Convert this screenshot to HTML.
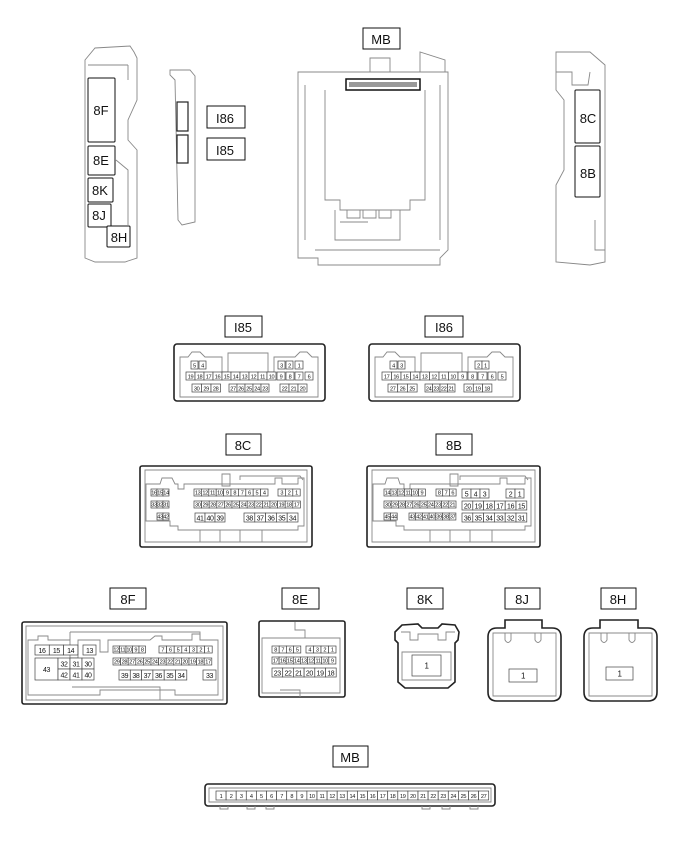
<!DOCTYPE html>
<html><head><meta charset="utf-8"><style>
html,body{margin:0;padding:0;background:#fff}
svg{display:block}
.o{fill:none;stroke:#222;stroke-width:1.6}
.l{fill:none;stroke:#888;stroke-width:0.9}
.c rect{fill:#fff;stroke:#444;stroke-width:0.7}
.c text{font-family:"Liberation Sans",sans-serif;font-size:5.6px;letter-spacing:-0.35px;text-anchor:middle;fill:#111}
.lb rect{fill:#fff;stroke:#111;stroke-width:1}
.lb text{font-family:"Liberation Sans",sans-serif;font-size:13px;text-anchor:middle;fill:#111}
.gr{fill:#e6e6e6;stroke:#555;stroke-width:0.7}
</style></head><body>
<svg width="688" height="852" viewBox="0 0 688 852" xmlns="http://www.w3.org/2000/svg">

<path class="l" d="M85,60 L95,48 L130,46 L134,52 L137,58 L137,100 L128,120 L128,140 L137,150 L137,258 L125,262 L95,262 L85,258 Z"/>
<path class="l" d="M88,65 L128,65 M128,65 L128,80 M116,160 L128,170 L128,225"/>
<g class="lb"><rect x="88" y="78" width="27" height="64" rx="1"/><text x="101" y="115">8F</text>
<rect x="88" y="146" width="27" height="29" rx="1"/><text x="101" y="165">8E</text>
<rect x="88" y="178" width="25" height="24" rx="1"/><text x="100" y="195">8K</text>
<rect x="88" y="204" width="23" height="23" rx="1"/><text x="99" y="220">8J</text>
<rect x="107" y="226" width="23" height="21" rx="1"/><text x="119" y="242">8H</text></g>
<path class="l" d="M170,70 L190,70 L195,76 L195,222 L182,225 L178,220 L175,80 L170,75 Z"/>
<rect x="177" y="102" width="11" height="29" fill="#fff" stroke="#222" stroke-width="1.2"/>
<rect x="177" y="135" width="11" height="28" fill="#fff" stroke="#222" stroke-width="1.2"/>
<g class="lb"><rect x="207" y="106" width="38" height="22"/><text x="225" y="123">I86</text>
<rect x="207" y="138" width="38" height="22"/><text x="225" y="155">I85</text>
<rect x="363" y="28" width="37" height="21"/><text x="381" y="44">MB</text></g>
<path class="l" d="M298,72 L448,72 L448,250 L440,258 L440,265 L318,265 L318,258 L298,258 Z"/>
<path class="l" d="M370,72 L370,58 L390,58 L390,72 M420,72 L420,52 L445,60 L445,72 M305,85 L305,240 M440,85 L440,240 M325,90 L325,200 L340,200 L340,210 L410,210 L410,200 L425,200 L425,90 M335,210 L335,240 L400,240 L400,210 M340,222 L368,222 M315,250 L440,250"/>
<path class="l" d="M347,210 h13 v8 h-13 z M363,210 h13 v8 h-13 z M379,210 h12 v8 h-12 z"/>
<rect x="346" y="79" width="74" height="11" fill="#fff" stroke="#111" stroke-width="1.5"/>
<rect x="349" y="82" width="68" height="5" fill="#999"/>
<path class="l" d="M556,52 L590,52 L605,65 L605,262 L590,265 L556,262 L556,185 L564,170 L564,100 L556,90 Z"/>
<path class="l" d="M556,72 L572,72 L572,85 L588,85 L590,72 M595,220 L595,250 L605,250"/>
<g class="lb"><rect x="575" y="90" width="25" height="53" rx="1"/><text x="588" y="123">8C</text>
<rect x="575" y="146" width="25" height="51" rx="1"/><text x="588" y="178">8B</text></g>

<g class="lb">
<rect x="225" y="316" width="37" height="21"/><text x="243" y="332">I85</text>
<rect x="425" y="316" width="38" height="21"/><text x="444" y="332">I86</text>
<rect x="226" y="434" width="35" height="21"/><text x="243" y="450">8C</text>
<rect x="436" y="434" width="36" height="21"/><text x="454" y="450">8B</text>
<rect x="110" y="588" width="36" height="21"/><text x="128" y="604">8F</text>
<rect x="282" y="588" width="37" height="21"/><text x="300" y="604">8E</text>
<rect x="407" y="588" width="36" height="21"/><text x="425" y="604">8K</text>
<rect x="505" y="588" width="35" height="21"/><text x="522" y="604">8J</text>
<rect x="601" y="588" width="35" height="21"/><text x="618" y="604">8H</text>
<rect x="333" y="746" width="35" height="21"/><text x="350" y="762">MB</text>
</g>

<rect class="o" x="174" y="344" width="151" height="57" rx="3"/>
<path class="l" d="M180,397 L180,357 L188,357 L192,352 L200,352 L205,357 L222,357 L222,372 L228,372 L228,353 L268,353 L268,372 L274,372 L274,357 L295,357 L300,352 L307,352 L312,357 L318,357 L318,397 Z"/>
<g class="c">
<rect x="191" y="361" width="7" height="8"/><text x="194.5" y="367.5">5</text>
<rect x="199" y="361" width="7" height="8"/><text x="202.5" y="367.5">4</text>
<rect x="278" y="361" width="7" height="8"/><text x="281.5" y="367.5">3</text>
<rect x="286" y="361" width="7" height="8"/><text x="289.5" y="367.5">2</text>
<rect x="295" y="361" width="8" height="8"/><text x="299" y="367.5">1</text>
<rect x="186" y="372" width="9" height="8"/><text x="190.5" y="378.5">19</text>
<rect x="195" y="372" width="9" height="8"/><text x="199.5" y="378.5">18</text>
<rect x="204" y="372" width="9" height="8"/><text x="208.5" y="378.5">17</text>
<rect x="213" y="372" width="9" height="8"/><text x="217.5" y="378.5">16</text>
<rect x="222" y="372" width="9" height="8"/><text x="226.5" y="378.5">15</text>
<rect x="231" y="372" width="9" height="8"/><text x="235.5" y="378.5">14</text>
<rect x="240" y="372" width="9" height="8"/><text x="244.5" y="378.5">13</text>
<rect x="249" y="372" width="9" height="8"/><text x="253.5" y="378.5">12</text>
<rect x="258" y="372" width="9" height="8"/><text x="262.5" y="378.5">11</text>
<rect x="267" y="372" width="9" height="8"/><text x="271.5" y="378.5">10</text>
<rect x="277" y="372" width="8" height="8"/><text x="281" y="378.5">9</text>
<rect x="286" y="372" width="8" height="8"/><text x="290" y="378.5">8</text>
<rect x="295" y="372" width="8" height="8"/><text x="299" y="378.5">7</text>
<rect x="305" y="372" width="8" height="8"/><text x="309" y="378.5">6</text>
<rect x="192" y="384" width="9.5" height="8"/><text x="196.7" y="390.5">30</text>
<rect x="201.5" y="384" width="9.5" height="8"/><text x="206.2" y="390.5">29</text>
<rect x="211" y="384" width="9.5" height="8"/><text x="215.7" y="390.5">28</text>
<rect x="229" y="384" width="8" height="8"/><text x="233" y="390.5">27</text>
<rect x="237" y="384" width="8" height="8"/><text x="241" y="390.5">26</text>
<rect x="245" y="384" width="8" height="8"/><text x="249" y="390.5">25</text>
<rect x="253" y="384" width="8" height="8"/><text x="257" y="390.5">24</text>
<rect x="261" y="384" width="8" height="8"/><text x="265" y="390.5">23</text>
<rect x="280" y="384" width="9" height="8"/><text x="284.5" y="390.5">22</text>
<rect x="289" y="384" width="9" height="8"/><text x="293.5" y="390.5">21</text>
<rect x="298" y="384" width="9" height="8"/><text x="302.5" y="390.5">20</text>
</g>

<rect class="o" x="369" y="344" width="151" height="57" rx="3"/>
<path class="l" d="M375,397 L375,357 L383,357 L387,352 L395,352 L400,357 L415,357 L415,372 L421,372 L421,353 L462,353 L462,372 L468,372 L468,357 L487,357 L492,352 L500,352 L505,357 L513,357 L513,397 Z"/>
<g class="c">
<rect x="390" y="361" width="7" height="8"/><text x="393.5" y="367.5">4</text>
<rect x="398" y="361" width="7" height="8"/><text x="401.5" y="367.5">3</text>
<rect x="475" y="361" width="7" height="8"/><text x="478.5" y="367.5">2</text>
<rect x="482" y="361" width="7" height="8"/><text x="485.5" y="367.5">1</text>
<rect x="382" y="372" width="9.5" height="8"/><text x="386.7" y="378.5">17</text>
<rect x="391.5" y="372" width="9.5" height="8"/><text x="396.2" y="378.5">16</text>
<rect x="401" y="372" width="9.5" height="8"/><text x="405.7" y="378.5">15</text>
<rect x="410.5" y="372" width="9.5" height="8"/><text x="415.2" y="378.5">14</text>
<rect x="420" y="372" width="9.5" height="8"/><text x="424.7" y="378.5">13</text>
<rect x="429.5" y="372" width="9.5" height="8"/><text x="434.2" y="378.5">12</text>
<rect x="439" y="372" width="9.5" height="8"/><text x="443.7" y="378.5">11</text>
<rect x="448.5" y="372" width="9.5" height="8"/><text x="453.2" y="378.5">10</text>
<rect x="458" y="372" width="9" height="8"/><text x="462.5" y="378.5">9</text>
<rect x="468" y="372" width="9" height="8"/><text x="472.5" y="378.5">8</text>
<rect x="478" y="372" width="9" height="8"/><text x="482.5" y="378.5">7</text>
<rect x="488" y="372" width="8" height="8"/><text x="492" y="378.5">6</text>
<rect x="498" y="372" width="8" height="8"/><text x="502" y="378.5">5</text>
<rect x="388" y="384" width="9.7" height="8"/><text x="392.8" y="390.5">27</text>
<rect x="397.7" y="384" width="9.7" height="8"/><text x="402.5" y="390.5">26</text>
<rect x="407.4" y="384" width="9.7" height="8"/><text x="412.2" y="390.5">25</text>
<rect x="425" y="384" width="7.5" height="8"/><text x="428.7" y="390.5">24</text>
<rect x="432.5" y="384" width="7.5" height="8"/><text x="436.2" y="390.5">23</text>
<rect x="440" y="384" width="7.5" height="8"/><text x="443.7" y="390.5">22</text>
<rect x="447.5" y="384" width="7.5" height="8"/><text x="451.2" y="390.5">21</text>
<rect x="464" y="384" width="9.3" height="8"/><text x="468.6" y="390.5">20</text>
<rect x="473.3" y="384" width="9.3" height="8"/><text x="477.9" y="390.5">19</text>
<rect x="482.6" y="384" width="9.3" height="8"/><text x="487.2" y="390.5">18</text>
</g>

<rect class="o" x="140" y="466" width="172" height="81" rx="2"/>
<path class="l" d="M145,470 L307,470 L307,542 L145,542 Z M200,542 L200,530 M220,542 L220,530 M240,530 L240,542 M262,542 L262,530 M222,474 L222,486 L230,486 L230,474 Z M240,480 L240,476 L300,476 L303,480"/>
<path class="l" d="M146,484 L160,484 L162,478 L172,478 L175,484 L178,484 L178,489 L184,489 L184,484 L275,484 L275,478 L282,478 L282,484 L298,484 L298,478 L304,478 L304,526 L298,526 L298,530 L178,530 L178,526 L170,526 L170,521 L146,521 Z"/>
<g class="c">
<rect x="151" y="489" width="6" height="7"/><text x="154" y="494.5">16</text>
<rect x="157" y="489" width="6" height="7"/><text x="160" y="494.5">15</text>
<rect x="163" y="489" width="6" height="7"/><text x="166" y="494.5">14</text>
<rect x="151" y="501" width="6" height="7"/><text x="154" y="506.5">33</text>
<rect x="157" y="501" width="6" height="7"/><text x="160" y="506.5">32</text>
<rect x="163" y="501" width="6" height="7"/><text x="166" y="506.5">31</text>
<rect x="157" y="513" width="6" height="7"/><text x="160" y="518.5">43</text>
<rect x="163" y="513" width="6" height="7"/><text x="166" y="518.5">42</text>
<rect x="194" y="489" width="7.4" height="7"/><text x="197.7" y="494.5">13</text>
<rect x="201.4" y="489" width="7.4" height="7"/><text x="205.1" y="494.5">12</text>
<rect x="208.8" y="489" width="7.4" height="7"/><text x="212.5" y="494.5">11</text>
<rect x="216.2" y="489" width="7.4" height="7"/><text x="219.9" y="494.5">10</text>
<rect x="223.6" y="489" width="7.4" height="7"/><text x="227.3" y="494.5">9</text>
<rect x="231" y="489" width="7.4" height="7"/><text x="234.7" y="494.5">8</text>
<rect x="238.4" y="489" width="7.4" height="7"/><text x="242.1" y="494.5">7</text>
<rect x="245.8" y="489" width="7.4" height="7"/><text x="249.5" y="494.5">6</text>
<rect x="253.2" y="489" width="7.4" height="7"/><text x="256.9" y="494.5">5</text>
<rect x="260.6" y="489" width="7.4" height="7"/><text x="264.3" y="494.5">4</text>
<rect x="278" y="489" width="7.4" height="7"/><text x="281.7" y="494.5">3</text>
<rect x="285.4" y="489" width="7.4" height="7"/><text x="289.1" y="494.5">2</text>
<rect x="292.8" y="489" width="7.4" height="7"/><text x="296.5" y="494.5">1</text>
<rect x="194" y="501" width="7.6" height="7"/><text x="197.8" y="506.5">30</text>
<rect x="201.6" y="501" width="7.6" height="7"/><text x="205.4" y="506.5">29</text>
<rect x="209.2" y="501" width="7.6" height="7"/><text x="213" y="506.5">28</text>
<rect x="216.8" y="501" width="7.6" height="7"/><text x="220.6" y="506.5">27</text>
<rect x="224.4" y="501" width="7.6" height="7"/><text x="228.2" y="506.5">26</text>
<rect x="232" y="501" width="7.6" height="7"/><text x="235.8" y="506.5">25</text>
<rect x="239.6" y="501" width="7.6" height="7"/><text x="243.4" y="506.5">24</text>
<rect x="247.2" y="501" width="7.6" height="7"/><text x="251" y="506.5">23</text>
<rect x="254.8" y="501" width="7.6" height="7"/><text x="258.6" y="506.5">22</text>
<rect x="262.4" y="501" width="7.6" height="7"/><text x="266.2" y="506.5">21</text>
<rect x="270" y="501" width="7.6" height="7"/><text x="273.8" y="506.5">20</text>
<rect x="277.6" y="501" width="7.6" height="7"/><text x="281.4" y="506.5">19</text>
<rect x="285.2" y="501" width="7.6" height="7"/><text x="289" y="506.5">18</text>
<rect x="292.8" y="501" width="7.6" height="7"/><text x="296.6" y="506.5">17</text>
</g>
<g class="c">
<rect x="195" y="513" width="10" height="9"/><text x="200" y="520.5" style="font-size:7px">41</text>
<rect x="205" y="513" width="10" height="9"/><text x="210" y="520.5" style="font-size:7px">40</text>
<rect x="215" y="513" width="10" height="9"/><text x="220" y="520.5" style="font-size:7px">39</text>
<rect x="244" y="513" width="10.8" height="9"/><text x="249.4" y="520.5" style="font-size:7px">38</text>
<rect x="254.8" y="513" width="10.8" height="9"/><text x="260.2" y="520.5" style="font-size:7px">37</text>
<rect x="265.6" y="513" width="10.8" height="9"/><text x="271" y="520.5" style="font-size:7px">36</text>
<rect x="276.4" y="513" width="10.8" height="9"/><text x="281.8" y="520.5" style="font-size:7px">35</text>
<rect x="287.2" y="513" width="10.8" height="9"/><text x="292.6" y="520.5" style="font-size:7px">34</text>
</g>

<rect class="o" x="367" y="466" width="173" height="81" rx="2"/>
<path class="l" d="M372,470 L535,470 L535,542 L372,542 Z M430,542 L430,530 M450,542 L450,530 M470,530 L470,542 M492,542 L492,530 M450,474 L450,486 L458,486 L458,474 Z M460,480 L460,476 L525,476 L528,480"/>
<path class="l" d="M373,484 L385,484 L387,478 L398,478 L400,484 L404,484 L404,489 L410,489 L410,484 L500,484 L500,478 L507,478 L507,484 L525,484 L525,478 L531,478 L531,526 L525,526 L525,530 L404,530 L404,526 L396,526 L396,521 L373,521 Z"/>
<g class="c">
<rect x="384" y="489" width="6.9" height="7"/><text x="387.4" y="494.5">14</text>
<rect x="390.9" y="489" width="6.9" height="7"/><text x="394.3" y="494.5">13</text>
<rect x="397.8" y="489" width="6.9" height="7"/><text x="401.2" y="494.5">12</text>
<rect x="404.7" y="489" width="6.9" height="7"/><text x="408.1" y="494.5">11</text>
<rect x="411.6" y="489" width="6.9" height="7"/><text x="415" y="494.5">10</text>
<rect x="418.5" y="489" width="6.9" height="7"/><text x="421.9" y="494.5">9</text>
<rect x="436" y="489" width="6.7" height="7"/><text x="439.3" y="494.5">8</text>
<rect x="442.7" y="489" width="6.7" height="7"/><text x="446" y="494.5">7</text>
<rect x="449.4" y="489" width="6.7" height="7"/><text x="452.7" y="494.5">6</text>
<rect x="384" y="501" width="7.2" height="7"/><text x="387.6" y="506.5">30</text>
<rect x="391.2" y="501" width="7.2" height="7"/><text x="394.8" y="506.5">29</text>
<rect x="398.4" y="501" width="7.2" height="7"/><text x="402" y="506.5">28</text>
<rect x="405.6" y="501" width="7.2" height="7"/><text x="409.2" y="506.5">27</text>
<rect x="412.8" y="501" width="7.2" height="7"/><text x="416.4" y="506.5">26</text>
<rect x="420" y="501" width="7.2" height="7"/><text x="423.6" y="506.5">25</text>
<rect x="427.2" y="501" width="7.2" height="7"/><text x="430.8" y="506.5">24</text>
<rect x="434.4" y="501" width="7.2" height="7"/><text x="438" y="506.5">23</text>
<rect x="441.6" y="501" width="7.2" height="7"/><text x="445.2" y="506.5">22</text>
<rect x="448.8" y="501" width="7.2" height="7"/><text x="452.4" y="506.5">21</text>
<rect x="384" y="513" width="6.6" height="7"/><text x="387.3" y="518.5">45</text>
<rect x="390.6" y="513" width="6.6" height="7"/><text x="393.9" y="518.5">44</text>
<rect x="409" y="513" width="6.7" height="7"/><text x="412.3" y="518.5">43</text>
<rect x="415.7" y="513" width="6.7" height="7"/><text x="419" y="518.5">42</text>
<rect x="422.4" y="513" width="6.7" height="7"/><text x="425.7" y="518.5">41</text>
<rect x="429.1" y="513" width="6.7" height="7"/><text x="432.4" y="518.5">40</text>
<rect x="435.8" y="513" width="6.7" height="7"/><text x="439.1" y="518.5">39</text>
<rect x="442.5" y="513" width="6.7" height="7"/><text x="445.8" y="518.5">38</text>
<rect x="449.2" y="513" width="6.7" height="7"/><text x="452.5" y="518.5">37</text>
</g>
<g class="c">
<rect x="462" y="489" width="9" height="9"/><text x="466.5" y="496.5" style="font-size:7px">5</text>
<rect x="471" y="489" width="9" height="9"/><text x="475.5" y="496.5" style="font-size:7px">4</text>
<rect x="480" y="489" width="9" height="9"/><text x="484.5" y="496.5" style="font-size:7px">3</text>
<rect x="506" y="489" width="9" height="9"/><text x="510.5" y="496.5" style="font-size:7px">2</text>
<rect x="515" y="489" width="9" height="9"/><text x="519.5" y="496.5" style="font-size:7px">1</text>
<rect x="462" y="501" width="10.8" height="9"/><text x="467.4" y="508.5" style="font-size:7px">20</text>
<rect x="472.8" y="501" width="10.8" height="9"/><text x="478.2" y="508.5" style="font-size:7px">19</text>
<rect x="483.6" y="501" width="10.8" height="9"/><text x="489" y="508.5" style="font-size:7px">18</text>
<rect x="494.4" y="501" width="10.8" height="9"/><text x="499.8" y="508.5" style="font-size:7px">17</text>
<rect x="505.2" y="501" width="10.8" height="9"/><text x="510.6" y="508.5" style="font-size:7px">16</text>
<rect x="516" y="501" width="10.8" height="9"/><text x="521.4" y="508.5" style="font-size:7px">15</text>
<rect x="462" y="513" width="10.8" height="9"/><text x="467.4" y="520.5" style="font-size:7px">36</text>
<rect x="472.8" y="513" width="10.8" height="9"/><text x="478.2" y="520.5" style="font-size:7px">35</text>
<rect x="483.6" y="513" width="10.8" height="9"/><text x="489" y="520.5" style="font-size:7px">34</text>
<rect x="494.4" y="513" width="10.8" height="9"/><text x="499.8" y="520.5" style="font-size:7px">33</text>
<rect x="505.2" y="513" width="10.8" height="9"/><text x="510.6" y="520.5" style="font-size:7px">32</text>
<rect x="516" y="513" width="10.8" height="9"/><text x="521.4" y="520.5" style="font-size:7px">31</text>
</g>

<rect class="o" x="22" y="622" width="205" height="82" rx="2"/>
<path class="l" d="M26,626 L223,626 L223,700 L26,700 Z M70,632 L200,632 L200,640 M70,632 L70,640 M72,687 L160,687 L160,700"/>
<path class="l" d="M28,640 L38,640 L38,636 L48,636 L48,640 L70,640 L70,658 L78,658 L78,640 L100,640 L100,652 L108,652 L108,640 L150,640 L155,636 L162,636 L162,640 L192,640 L192,634 L200,634 L200,640 L218,640 L218,695 L175,695 L175,690 L100,690 L100,695 L28,695 Z"/>
<g class="c">
<rect x="35" y="645" width="14.3" height="10"/><text x="42" y="653" style="font-size:7px">16</text>
<rect x="49.3" y="645" width="14.3" height="10"/><text x="56.4" y="653" style="font-size:7px">15</text>
<rect x="63.6" y="645" width="14.3" height="10"/><text x="70.7" y="653" style="font-size:7px">14</text>
<rect x="83" y="645" width="13" height="10"/><text x="89.5" y="653" style="font-size:7px">13</text>
<rect x="35" y="658" width="23" height="22"/><text x="46.5" y="672" style="font-size:7px">43</text>
<rect x="58" y="658" width="12" height="11"/><text x="64" y="666.5" style="font-size:7px">32</text>
<rect x="70" y="658" width="12" height="11"/><text x="76" y="666.5" style="font-size:7px">31</text>
<rect x="82" y="658" width="12" height="11"/><text x="88" y="666.5" style="font-size:7px">30</text>
<rect x="58" y="669" width="12" height="11"/><text x="64" y="677.5" style="font-size:7px">42</text>
<rect x="70" y="669" width="12" height="11"/><text x="76" y="677.5" style="font-size:7px">41</text>
<rect x="82" y="669" width="12" height="11"/><text x="88" y="677.5" style="font-size:7px">40</text>
<rect x="113" y="646" width="6.5" height="7"/><text x="116.2" y="651.5">12</text>
<rect x="119.5" y="646" width="6.5" height="7"/><text x="122.7" y="651.5">11</text>
<rect x="126" y="646" width="6.5" height="7"/><text x="129.2" y="651.5">10</text>
<rect x="132.5" y="646" width="6.5" height="7"/><text x="135.7" y="651.5">9</text>
<rect x="139" y="646" width="6.5" height="7"/><text x="142.2" y="651.5">8</text>
<rect x="159" y="646" width="7.6" height="7"/><text x="162.8" y="651.5">7</text>
<rect x="166.6" y="646" width="7.6" height="7"/><text x="170.4" y="651.5">6</text>
<rect x="174.2" y="646" width="7.6" height="7"/><text x="178" y="651.5">5</text>
<rect x="181.8" y="646" width="7.6" height="7"/><text x="185.6" y="651.5">4</text>
<rect x="189.4" y="646" width="7.6" height="7"/><text x="193.2" y="651.5">3</text>
<rect x="197" y="646" width="7.6" height="7"/><text x="200.8" y="651.5">2</text>
<rect x="204.6" y="646" width="7.6" height="7"/><text x="208.4" y="651.5">1</text>
<rect x="113" y="658" width="7.6" height="7" class="gr"/><text x="116.8" y="663.5">29</text>
<rect x="120.6" y="658" width="7.6" height="7" class="gr"/><text x="124.4" y="663.5">28</text>
<rect x="128.2" y="658" width="7.6" height="7" class="gr"/><text x="132" y="663.5">27</text>
<rect x="135.8" y="658" width="7.6" height="7" class="gr"/><text x="139.6" y="663.5">26</text>
<rect x="143.4" y="658" width="7.6" height="7" class="gr"/><text x="147.2" y="663.5">25</text>
<rect x="151" y="658" width="7.6" height="7" class="gr"/><text x="154.8" y="663.5">24</text>
<rect x="158.6" y="658" width="7.6" height="7" class="gr"/><text x="162.4" y="663.5">23</text>
<rect x="166.2" y="658" width="7.6" height="7" class="gr"/><text x="170" y="663.5">22</text>
<rect x="173.8" y="658" width="7.6" height="7" class="gr"/><text x="177.6" y="663.5">21</text>
<rect x="181.4" y="658" width="7.6" height="7" class="gr"/><text x="185.2" y="663.5">20</text>
<rect x="189" y="658" width="7.6" height="7" class="gr"/><text x="192.8" y="663.5">19</text>
<rect x="196.6" y="658" width="7.6" height="7" class="gr"/><text x="200.4" y="663.5">18</text>
<rect x="204.2" y="658" width="7.6" height="7" class="gr"/><text x="208" y="663.5">17</text>
<rect x="119" y="670" width="11.3" height="10"/><text x="124.6" y="678" style="font-size:7px">39</text>
<rect x="130.3" y="670" width="11.3" height="10"/><text x="135.9" y="678" style="font-size:7px">38</text>
<rect x="141.6" y="670" width="11.3" height="10"/><text x="147.2" y="678" style="font-size:7px">37</text>
<rect x="152.9" y="670" width="11.3" height="10"/><text x="158.5" y="678" style="font-size:7px">36</text>
<rect x="164.2" y="670" width="11.3" height="10"/><text x="169.8" y="678" style="font-size:7px">35</text>
<rect x="175.5" y="670" width="11.3" height="10"/><text x="181.1" y="678" style="font-size:7px">34</text>
<rect x="203" y="670" width="13" height="10"/><text x="209.5" y="678" style="font-size:7px">33</text>
</g>

<rect class="o" x="259" y="621" width="86" height="76" rx="2"/>
<path class="l" d="M262,638 L340,638 L340,693 L262,693 Z M295,622 L295,630 L305,630 L305,638 M280,690 L300,690 L300,697"/>
<g class="c">
<rect x="272" y="646" width="7.2" height="7"/><text x="275.6" y="651.5">8</text>
<rect x="279.2" y="646" width="7.2" height="7"/><text x="282.8" y="651.5">7</text>
<rect x="286.4" y="646" width="7.2" height="7"/><text x="290" y="651.5">6</text>
<rect x="293.6" y="646" width="7.2" height="7"/><text x="297.2" y="651.5">5</text>
<rect x="306" y="646" width="7.5" height="7"/><text x="309.7" y="651.5">4</text>
<rect x="313.5" y="646" width="7.5" height="7"/><text x="317.2" y="651.5">3</text>
<rect x="321" y="646" width="7.5" height="7"/><text x="324.7" y="651.5">2</text>
<rect x="328.5" y="646" width="7.5" height="7"/><text x="332.2" y="651.5">1</text>
<rect x="272" y="657" width="7.1" height="7"/><text x="275.5" y="662.5">17</text>
<rect x="279.1" y="657" width="7.1" height="7"/><text x="282.6" y="662.5">16</text>
<rect x="286.2" y="657" width="7.1" height="7"/><text x="289.7" y="662.5">15</text>
<rect x="293.3" y="657" width="7.1" height="7"/><text x="296.8" y="662.5">14</text>
<rect x="300.4" y="657" width="7.1" height="7"/><text x="303.9" y="662.5">13</text>
<rect x="307.5" y="657" width="7.1" height="7"/><text x="311" y="662.5">12</text>
<rect x="314.6" y="657" width="7.1" height="7"/><text x="318.1" y="662.5">11</text>
<rect x="321.7" y="657" width="7.1" height="7"/><text x="325.2" y="662.5">10</text>
<rect x="328.8" y="657" width="7.1" height="7"/><text x="332.3" y="662.5">9</text>
<rect x="272" y="668" width="10.7" height="9"/><text x="277.3" y="675.5" style="font-size:7px">23</text>
<rect x="282.7" y="668" width="10.7" height="9"/><text x="288" y="675.5" style="font-size:7px">22</text>
<rect x="293.4" y="668" width="10.7" height="9"/><text x="298.7" y="675.5" style="font-size:7px">21</text>
<rect x="304.1" y="668" width="10.7" height="9"/><text x="309.4" y="675.5" style="font-size:7px">20</text>
<rect x="314.8" y="668" width="10.7" height="9"/><text x="320.1" y="675.5" style="font-size:7px">19</text>
<rect x="325.5" y="668" width="10.7" height="9"/><text x="330.8" y="675.5" style="font-size:7px">18</text>
</g>

<path class="o" d="M402,625 L418,624 L422,628 L438,628 L442,624 L455,625 L459,632 L458,640 L455,643 L455,682 L448,688 L405,688 L398,682 L398,643 L395,640 L395,632 Z"/>
<path class="l" d="M401,632 L410,632 L410,640 L418,640 L418,634 L438,634 L438,640 L446,640 L446,632 L455,632 M402,652 L451,652 L451,680 L402,680 Z"/>
<g class="c"><rect x="412" y="655" width="29" height="21"/><text x="426.5" y="668.5" style="font-size:8px">1</text></g>

<path class="o" d="M505,628 L505,620 L542,620 L542,628 L552,628 Q561,628 561,637 L561,692 Q561,701 552,701 L497,701 Q488,701 488,692 L488,637 Q488,628 497,628 Z"/>
<path class="l" d="M493,633 L556,633 L556,696 L493,696 Z M505,633 L505,640 Q508,645 511,640 L511,633 M535,633 L535,640 Q538,645 541,640 L541,633"/>
<g class="c"><rect x="509" y="669" width="28" height="13"/><text x="523" y="678.5" style="font-size:8px">1</text></g>

<path class="o" d="M600,628 L600,620 L638,620 L638,628 L648,628 Q657,628 657,637 L657,692 Q657,701 648,701 L593,701 Q584,701 584,692 L584,637 Q584,628 593,628 Z"/>
<path class="l" d="M589,633 L652,633 L652,696 L589,696 Z M601,633 L601,640 Q604,645 607,640 L607,633 M629,633 L629,640 Q632,645 635,640 L635,633"/>
<g class="c"><rect x="606" y="667" width="27" height="13"/><text x="619.5" y="676.5" style="font-size:8px">1</text></g>

<rect class="o" x="205" y="784" width="290" height="22" rx="3"/>
<path class="l" d="M209,788 L491,788 L491,802 L209,802 Z M220,806 v3 h8 v-3 M247,806 v3 h8 v-3 M266,806 v3 h8 v-3 M422,806 v3 h8 v-3 M442,806 v3 h8 v-3 M470,806 v3 h8 v-3"/>
<g class="c">
<rect x="216" y="791" width="10.1" height="9"/><text x="221" y="798">1</text>
<rect x="226.1" y="791" width="10.1" height="9"/><text x="231.1" y="798">2</text>
<rect x="236.2" y="791" width="10.1" height="9"/><text x="241.2" y="798">3</text>
<rect x="246.3" y="791" width="10.1" height="9"/><text x="251.3" y="798">4</text>
<rect x="256.4" y="791" width="10.1" height="9"/><text x="261.4" y="798">5</text>
<rect x="266.5" y="791" width="10.1" height="9"/><text x="271.5" y="798">6</text>
<rect x="276.6" y="791" width="10.1" height="9"/><text x="281.6" y="798">7</text>
<rect x="286.7" y="791" width="10.1" height="9"/><text x="291.7" y="798">8</text>
<rect x="296.8" y="791" width="10.1" height="9"/><text x="301.8" y="798">9</text>
<rect x="306.9" y="791" width="10.1" height="9"/><text x="311.9" y="798">10</text>
<rect x="317" y="791" width="10.1" height="9"/><text x="322" y="798">11</text>
<rect x="327.1" y="791" width="10.1" height="9"/><text x="332.1" y="798">12</text>
<rect x="337.2" y="791" width="10.1" height="9"/><text x="342.2" y="798">13</text>
<rect x="347.3" y="791" width="10.1" height="9"/><text x="352.3" y="798">14</text>
<rect x="357.4" y="791" width="10.1" height="9"/><text x="362.4" y="798">15</text>
<rect x="367.5" y="791" width="10.1" height="9"/><text x="372.5" y="798">16</text>
<rect x="377.6" y="791" width="10.1" height="9"/><text x="382.6" y="798">17</text>
<rect x="387.7" y="791" width="10.1" height="9"/><text x="392.7" y="798">18</text>
<rect x="397.8" y="791" width="10.1" height="9"/><text x="402.8" y="798">19</text>
<rect x="407.9" y="791" width="10.1" height="9"/><text x="412.9" y="798">20</text>
<rect x="418" y="791" width="10.1" height="9"/><text x="423" y="798">21</text>
<rect x="428.1" y="791" width="10.1" height="9"/><text x="433.1" y="798">22</text>
<rect x="438.2" y="791" width="10.1" height="9"/><text x="443.2" y="798">23</text>
<rect x="448.3" y="791" width="10.1" height="9"/><text x="453.3" y="798">24</text>
<rect x="458.4" y="791" width="10.1" height="9"/><text x="463.4" y="798">25</text>
<rect x="468.5" y="791" width="10.1" height="9"/><text x="473.5" y="798">26</text>
<rect x="478.6" y="791" width="10.1" height="9"/><text x="483.6" y="798">27</text>
</g>
</svg>
</body></html>
